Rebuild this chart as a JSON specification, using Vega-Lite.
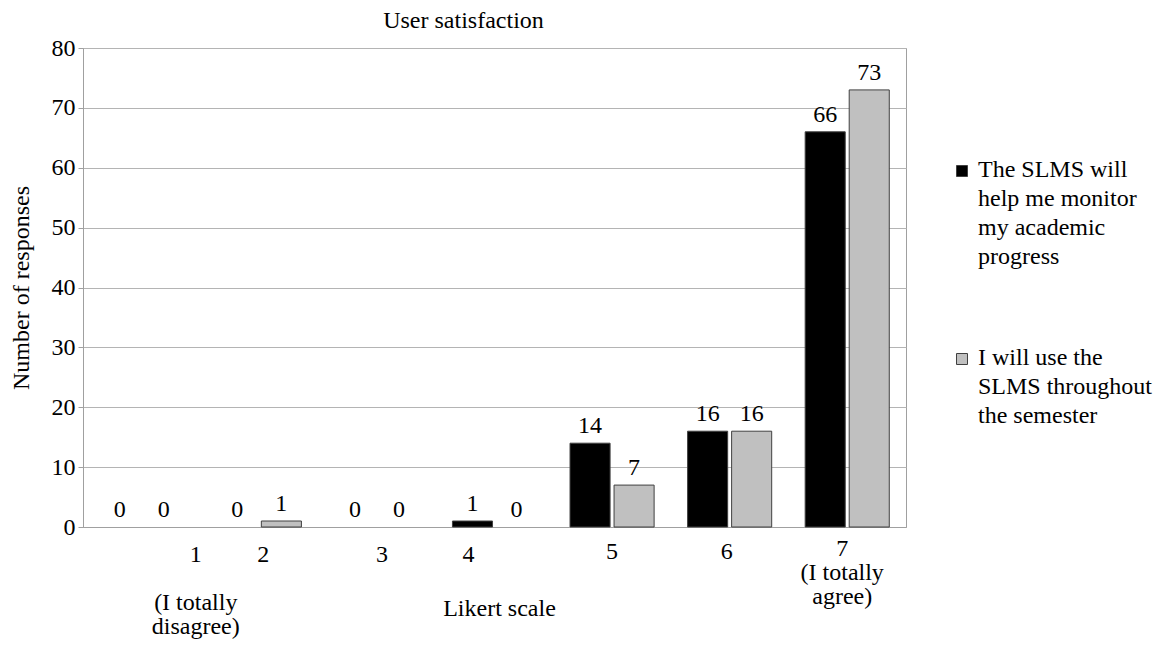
{
  "$schema": "https://vega.github.io/schema/vega-lite/v6.json",
  "width": 823,
  "height": 479,
  "autosize": {"type": "none"},
  "padding": {"left": 83, "top": 48, "right": 256, "bottom": 119},
  "background": "white",
  "title": {
    "text": "User satisfaction",
    "fontSize": 24,
    "font": "Liberation Serif",
    "fontWeight": "normal",
    "color": "#000000",
    "anchor": "middle",
    "dx": -31,
    "offset": 3
  },
  "data": {
    "values": [
      {"likert": "1", "series": "The SLMS will help me monitor my academic progress", "count": 0},
      {"likert": "1", "series": "I will use the SLMS throughout the semester", "count": 0},
      {"likert": "2", "series": "The SLMS will help me monitor my academic progress", "count": 0},
      {"likert": "2", "series": "I will use the SLMS throughout the semester", "count": 1},
      {"likert": "3", "series": "The SLMS will help me monitor my academic progress", "count": 0},
      {"likert": "3", "series": "I will use the SLMS throughout the semester", "count": 0},
      {"likert": "4", "series": "The SLMS will help me monitor my academic progress", "count": 1},
      {"likert": "4", "series": "I will use the SLMS throughout the semester", "count": 0},
      {"likert": "5", "series": "The SLMS will help me monitor my academic progress", "count": 14},
      {"likert": "5", "series": "I will use the SLMS throughout the semester", "count": 7},
      {"likert": "6", "series": "The SLMS will help me monitor my academic progress", "count": 16},
      {"likert": "6", "series": "I will use the SLMS throughout the semester", "count": 16},
      {"likert": "7", "series": "The SLMS will help me monitor my academic progress", "count": 66},
      {"likert": "7", "series": "I will use the SLMS throughout the semester", "count": 73}
    ]
  },
  "encoding": {
    "x": {
      "field": "likert",
      "type": "nominal",
      "sort": ["1", "2", "3", "4", "5", "6", "7"],
      "scale": {"paddingInner": 0, "paddingOuter": 0},
      "axis": {
        "title": "Likert scale",
        "titleFontSize": 24,
        "titleFontWeight": "normal",
        "titleX": 416,
        "titleY": 81,
        "titleBaseline": "middle",
        "labelAngle": 0,
        "labelFontSize": 24,
        "labelLineHeight": 24,
        "labelPadding": {"condition": [{"test": "datum.value == '7'", "value": 9}, {"test": "datum.value == '5' || datum.value == '6'", "value": 12}], "value": 15},
        "labelOffset": {"condition": [{"test": "datum.value == '1'", "value": 54}, {"test": "datum.value == '4'", "value": -26}, {"test": "datum.value == '2'", "value": 4}, {"test": "datum.value == '3'", "value": 5}, {"test": "datum.value == '6'", "value": -3}, {"test": "datum.value == '7'", "value": -5}], "value": 0},
        "labelBaseline": "top",
        "labelOverlap": false,
        "labelBound": false,
        "labelFlush": false,
        "ticks": false,
        "domainColor": "#a0a0a0",
        "labelExpr": "datum.value == '1' ? ['1', '\u200b', '(I totally', 'disagree)'] : datum.value == '7' ? ['7', '(I totally', 'agree)'] : datum.value"
      }
    },
    "xOffset": {
      "field": "series",
      "type": "nominal",
      "sort": ["The SLMS will help me monitor my academic progress", "I will use the SLMS throughout the semester"],
      "scale": {"paddingInner": 0.09, "paddingOuter": 0.38}
    },
    "y": {
      "field": "count",
      "type": "quantitative",
      "scale": {"domain": [0, 80], "nice": false},
      "axis": {
        "values": [0, 10, 20, 30, 40, 50, 60, 70, 80],
        "title": "Number of responses",
        "titleFontSize": 24,
        "titleFontWeight": "normal",
        "titlePadding": 18,
        "labelFontSize": 24,
        "labelPadding": 3,
        "tickSize": 5,
        "tickColor": "#a0a0a0",
        "domainColor": "#a0a0a0",
        "gridColor": "#b4b4b4",
        "grid": true
      }
    }
  },
  "layer": [
    {
      "mark": {"type": "bar", "stroke": "#404040", "strokeWidth": 1},
      "encoding": {
        "strokeOpacity": {"condition": {"test": "datum.count == 0", "value": 0}, "value": 1},
        "color": {
          "field": "series",
          "type": "nominal",
          "sort": ["The SLMS will help me monitor my academic progress", "I will use the SLMS throughout the semester"],
          "scale": {
            "domain": ["The SLMS will help me monitor my academic progress", "I will use the SLMS throughout the semester"],
            "range": ["#000000", "#c0c0c0"]
          },
          "legend": {
            "orient": "none",
            "legendX": 867,
            "legendY": 111,
            "title": null,
            "symbolType": "square",
            "symbolSize": 121,
            "symbolStrokeColor": "#404040",
            "symbolStrokeWidth": 1,
            "labelFontSize": 24,
            "labelFont": "Liberation Serif",
            "labelColor": "#000000",
            "labelLimit": 0,
            "labelOffset": 4,
            "rowPadding": 77,
            "labelBaseline": "top",
            "labelExpr": "datum.label == 'The SLMS will help me monitor my academic progress' ? ['The SLMS will', 'help me monitor', 'my academic', 'progress'] : ['I will use the', 'SLMS throughout', 'the semester']",
            "encode": {
              "labels": {"update": {"lineHeight": {"value": 29}, "dy": {"value": -13}}}
            }
          }
        }
      }
    },
    {
      "mark": {"type": "text", "baseline": "alphabetic", "dy": -10, "fontSize": 24, "font": "Liberation Serif", "color": "#000000"},
      "encoding": {"text": {"field": "count", "type": "quantitative"}}
    }
  ],
  "config": {
    "font": "Liberation Serif",
    "view": {"stroke": "#a0a0a0", "strokeWidth": 1},
    "axis": {"labelColor": "#000000", "titleColor": "#000000", "labelFont": "Liberation Serif", "titleFont": "Liberation Serif"}
  }
}
